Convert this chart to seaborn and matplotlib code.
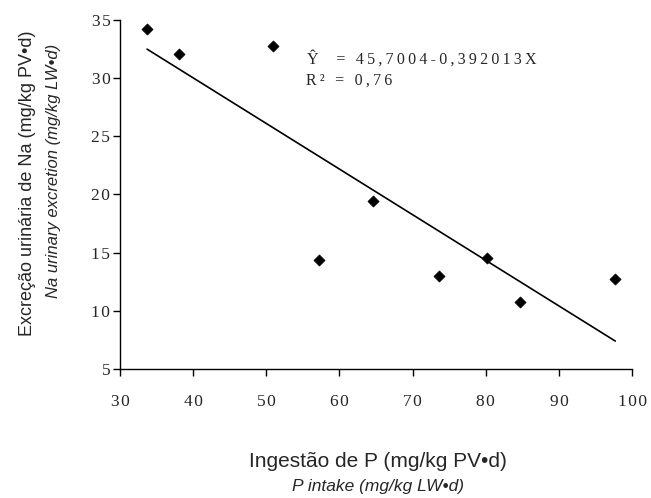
import matplotlib
matplotlib.use('Agg')
import matplotlib.pyplot as plt
import numpy as np
import pandas as pd
import seaborn as sns

# values
p_intake = [33.7, 38.1, 50.9, 57.2, 64.6, 73.6, 80.2, 84.7, 97.7]
na_excretion = [34.2, 32.1, 32.8, 14.4, 19.4, 13.0, 14.5, 10.8, 12.7]

# fitted equation shown on the chart
intercept = 45.7004
slope = -0.392013
eq_text = 'Ŷ  = 45,7004-0,392013X'
r2_text = 'R² = 0,76'

x_ticks = [30, 40, 50, 60, 70, 80, 90, 100]
y_ticks = [5, 10, 15, 20, 25, 30, 35]


def spaced(s, gap='\u2009'):
    # the original typesetting has wide letter spacing
    return gap.join(s)


df = pd.DataFrame({'x': p_intake, 'y': na_excretion})
df['fit'] = intercept + slope * df['x']

sns.set_style('ticks')
plt.rcParams['font.family'] = ['Liberation Sans', 'DejaVu Sans']

fig = plt.figure(figsize=(6.51, 4.98), dpi=100)
ax = fig.add_axes([0.1843, 0.259, 0.7867, 0.701])

sns.lineplot(data=df, x='x', y='fit', color='black', linewidth=1.2, ax=ax)
sns.scatterplot(data=df, x='x', y='y', marker='D', color='black', s=32,
                edgecolor='black', linewidth=0.5, ax=ax, zorder=3)

ax.set_xlim(30, 100)
ax.set_ylim(5, 35)
ax.set_xticks(x_ticks)
ax.set_yticks(y_ticks)
serif = ['Liberation Serif', 'DejaVu Serif']
ax.set_xticklabels([spaced(str(t), '\u200a') for t in x_ticks], family=serif, fontsize=12.5)
ax.set_yticklabels([spaced(str(t), '\u200a') for t in y_ticks], family=serif, fontsize=12.5)
ax.tick_params(axis='both', direction='out', length=5, width=1, color='black')
ax.tick_params(axis='x', pad=13)
ax.tick_params(axis='y', pad=2)
for side in ['left', 'bottom']:
    ax.spines[side].set_color('black')
    ax.spines[side].set_linewidth(1)
sns.despine(ax=ax)

ax.set_xlabel('')
ax.set_ylabel('')

ax.text(55.6, 31.6, spaced(eq_text), family=serif, fontsize=11.5, va='center', ha='left')
ax.text(55.4, 29.8, spaced(r2_text), family=serif, fontsize=11.5, va='center', ha='left')

# axis titles (two lines, second one italic)
fig.text(0.58, 0.074, 'Ingestão de P (mg/kg PV•d)', fontsize=15, ha='center', va='center')
fig.text(0.581, 0.024, 'P intake (mg/kg LW•d)', fontsize=12.5, style='italic', ha='center', va='center')
fig.text(0.043, 0.632, 'Excreção urinária de Na (mg/kg PV•d)', fontsize=13, rotation=90,
         ha='center', va='center')
fig.text(0.082, 0.657, 'Na urinary excretion (mg/kg LW•d)', fontsize=12, style='italic',
         rotation=90, ha='center', va='center')

fig.savefig('out.png', dpi=100)
